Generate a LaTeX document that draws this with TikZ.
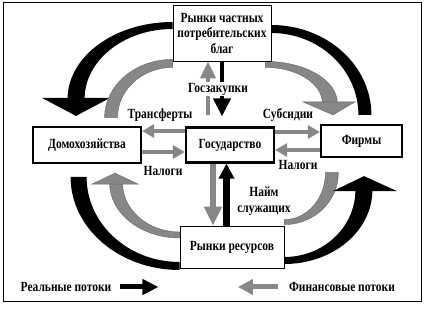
\documentclass[tikz,border=0pt]{standalone}
\usepackage{fontspec}
\setmainfont{Liberation Serif}[FakeStretch=0.82]
\definecolor{finGray}{RGB}{135,135,135}
\usetikzlibrary{arrows.meta, backgrounds}

\begin{document}
\begin{tikzpicture}[x=1pt, y=1pt,
    font=\fontsize{14}{15.5}\selectfont\bfseries,
    box/.style={rectangle, draw, line width=2.2pt, fill=white, inner sep=0pt},
    market/.style={rectangle, draw, line width=0.8pt, fill=white, align=center, inner sep=0pt},
    flowtext/.style={inner sep=1pt, align=center},
    finflow/.style={draw=finGray, line width=4.5pt, -{Triangle[width=13pt,length=12pt]}},
    realflow/.style={draw=black, line width=4.5pt, -{Triangle[width=17pt,length=18pt]}},
    finband/.style={fill=finGray, draw=black!60, line width=0.4pt},
    realband/.style={fill=black}
  ]
    \useasboundingbox (0,0) rectangle (424,311);
    \draw[line width=1pt] (3,9) rectangle (421,308);

    \node[market, minimum width=98pt, minimum height=56pt] (mkt) at (222,278)
      {Рынки частных\\потребительских\\благ};
    \node[box, minimum width=108pt, minimum height=36pt] (home) at (87,166) {Домохозяйства};
    \node[box, minimum width=88pt, minimum height=35pt] (gov) at (230,166) {Государство};
    \node[box, minimum width=81pt, minimum height=32pt] (firms) at (361.5,170) {Фирмы};
    \node[market, minimum width=104pt, minimum height=42pt] (res) at (232,64) {Рынки ресурсов};

    \node[flowtext] (transf) at (160,196) {Трансферты};
    \node[flowtext] (taxHome) at (163,140) {Налоги};
    \node[flowtext] (subs) at (288,196) {Субсидии};
    \node[flowtext] (taxFirm) at (298,146) {Налоги};
    \node[flowtext, fill=white] (buy) at (218,222) {Госзакупки};
    \node[flowtext] (hire) at (264,110) {Найм\\служащих};
    \node[flowtext] (legReal) at (66,24) {Реальные потоки};
    \node[flowtext] (legFin) at (342,24) {Финансовые потоки};

    \begin{scope}[on background layer]
      % big outer loops
      \fill[realband] ([yshift=11pt]mkt.west) arc[start angle=90, end angle=180, x radius=105, y radius=77]
        -- ++(17,0) arc[start angle=180, end angle=90, x radius=88, y radius=70] -- cycle;
      \fill[realband] ([xshift=-11pt,yshift=10pt]home.north) -- ++(-34,18) -- ++(68,0) -- cycle;
      \filldraw[finband] ([yshift=2pt]mkt.south west) arc[start angle=90, end angle=180, x radius=68, y radius=58]
        -- ++(13,0) arc[start angle=180, end angle=90, x radius=55, y radius=50] -- cycle;
      \fill[realband] ([yshift=8pt]mkt.east) arc[start angle=90, end angle=0, x radius=100, y radius=90]
        -- ++(-13,0) arc[start angle=0, end angle=90, x radius=87, y radius=82] -- cycle;
      \filldraw[finband] ([xshift=-6pt]mkt.south east) arc[start angle=90, end angle=0, x radius=72, y radius=42]
        -- ++(-15,0) arc[start angle=0, end angle=90, x radius=57, y radius=36] -- cycle;
      \filldraw[finband] ([xshift=-28.5pt,yshift=9pt]firms.north) -- ++(-30,13) -- ++(52,0) -- cycle;
      \fill[realband] ([yshift=-23pt]res.west) arc[start angle=270, end angle=180, x radius=109, y radius=93]
        -- ++(16,0) arc[start angle=180, end angle=270, x radius=93, y radius=85] -- cycle;
      \filldraw[finband] ([yshift=9pt]res.west) arc[start angle=270, end angle=180, x radius=70, y radius=55]
        -- ++(13,0) arc[start angle=180, end angle=270, x radius=57, y radius=49] -- cycle;
      \filldraw[finband] ([xshift=28pt,yshift=-9pt]home.south) -- ++(-23,-11) -- ++(46,0) -- cycle;
      \filldraw[finband] ([yshift=1pt]res.north east) arc[start angle=270, end angle=360, x radius=54, y radius=52]
        -- ++(-13,0) arc[start angle=0, end angle=-90, x radius=41, y radius=47] -- cycle;
      \fill[realband] ([yshift=-17pt]res.east) arc[start angle=270, end angle=360, x radius=88, y radius=74]
        -- ++(-17,0) arc[start angle=0, end angle=-90, x radius=71, y radius=67] -- cycle;
      \fill[realband] ([xshift=2.5pt,yshift=-18pt]firms.south) -- ++(-31,-15) -- ++(64,0) -- cycle;

      % flows through the state
      \draw[finflow] ([yshift=14pt]gov.west) -- ([yshift=14pt]home.east);
      \draw[finflow] ([yshift=-7pt]home.east) -- ([yshift=-7pt]gov.west);
      \draw[finflow] ([yshift=13pt]gov.east) -- ([yshift=9pt]firms.west);
      \draw[finflow] ([yshift=-9pt]firms.west) -- ([yshift=-5pt]gov.east);
      \draw[finflow, line width=4pt, -{Triangle[width=15pt,length=17pt]}]
        ([xshift=-22pt,yshift=11pt]gov.north) -- ([xshift=-14pt]mkt.south);
      \draw[realflow, line width=4pt] (mkt.south) -- ([xshift=-8pt,yshift=10pt]gov.north);
      \draw[finflow, line width=6pt, -{Triangle[width=17pt,length=19pt]}]
        ([xshift=-17pt]gov.south) -- ([xshift=-19pt]res.north);
      \draw[realflow, line width=6.5pt, -{Triangle[width=15pt,length=15pt]}]
        ([xshift=-5.5pt]res.north) -- ([xshift=-3.5pt]gov.south);

      % legend
      \draw[realflow, line width=5pt, -{Triangle[width=15pt,length=16pt]}]
        ([xshift=8pt]legReal.east) -- ++(38,0);
      \draw[finflow, line width=5pt, -{Triangle[width=15pt,length=15pt]}]
        ([xshift=-10pt]legFin.west) -- ++(-40,0);
    \end{scope}
  \end{tikzpicture}
\end{document}
